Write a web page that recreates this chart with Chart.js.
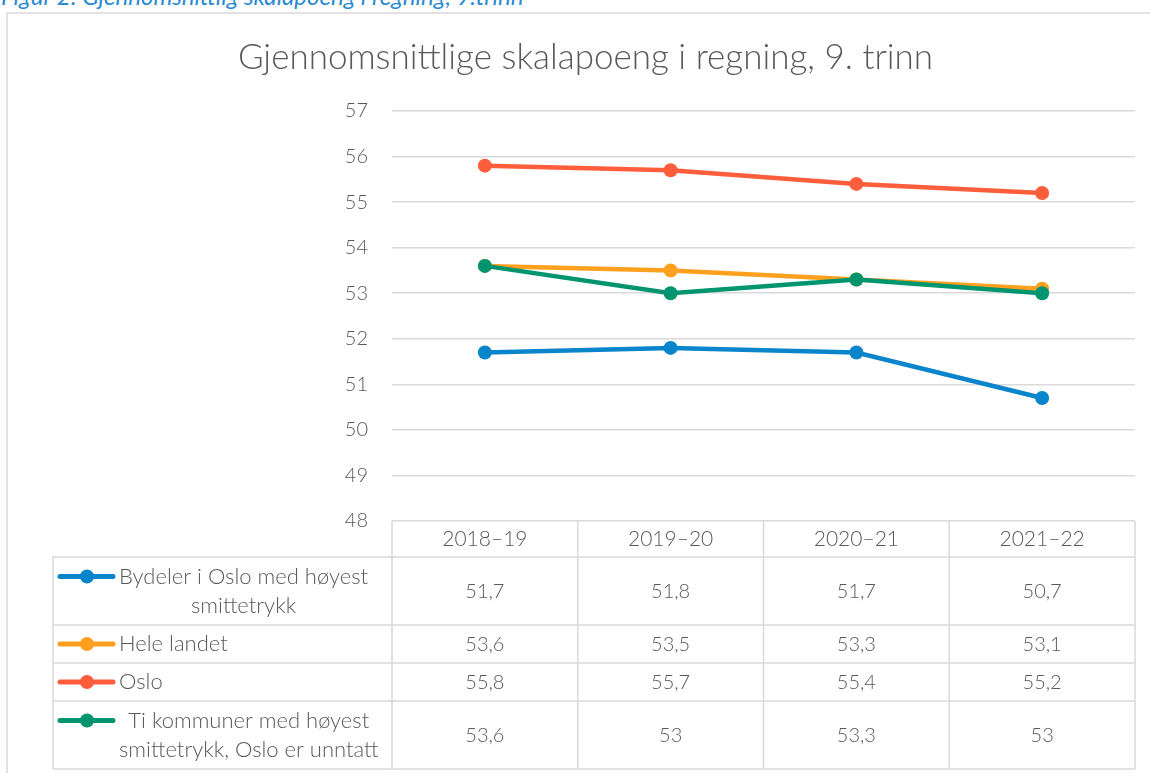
<!DOCTYPE html>
<html>
<head>
<meta charset="utf-8">
<script src="https://cdn.jsdelivr.net/npm/chart.js@4/dist/chart.umd.min.js"></script>
<style>
    html, body { margin: 0; padding: 0; background: #FFFFFF; overflow: hidden; }
    #caption {
        position: absolute; left: 1px; top: -19px;
        font-family: Lato, 'Open Sans', sans-serif; font-style: italic; font-size: 24px;
        color: #2A8AD2; white-space: nowrap;
    }
    #graph_wrap { position: absolute; left: 0; top: 0; width: 1150px; height: 773px; }
</style>
</head>
<body>
<div id="caption">Figur 2: Gjennomsnittlig skalapoeng i regning, 9.trinn</div>
<div id="graph_wrap"><canvas id="graph_skalapoeng" width="1150" height="773"></canvas></div>
<script>

var LABELS_YEARS                                            = ['2018\u201319', '2019\u201320', '2020\u201321', '2021\u201322'];

var data_bydeler                                            = [51.7, 51.8, 51.7, 50.7];
var data_hele_landet                                        = [53.6, 53.5, 53.3, 53.1];
var data_oslo                                               = [55.8, 55.7, 55.4, 55.2];
var data_ti_kommuner                                        = [53.6, 53.0, 53.3, 53.0];

var label_bydeler                                           = ['Bydeler i Oslo med h\u00f8yest', 'smittetrykk'];
var label_hele_landet                                       = ['Hele landet'];
var label_oslo                                              = ['Oslo'];
var label_ti_kommuner                                       = ['Ti kommuner med h\u00f8yest', 'smittetrykk, Oslo er unntatt'];

var Y_MIN                                                   = 48;
var Y_MAX                                                   = 57;

var COLOR_TEXT                                              = '#595959';
var COLOR_GRID                                              = '#D9D9D9';
var FONT_FAMILY                                             = 'Lato, "Open Sans", sans-serif';

// table layout (pixels), row borders below the plot area
var TABLE_LEFT                                              = 53;
var TABLE_ROWS                                              = [557, 625, 663, 701, 769];
var TABLE_LINE_GAP                                          = 29;
var LEGEND_TEXT_X                                           = 119;

var graph_chart                                             = null;





function graph_format_value(value) {

    return String(value).replace('.', ',');
}



function graph_datasets() {

    var rows = [
        [label_bydeler,     data_bydeler,     '#0A84CB', 4],
        [label_hele_landet, data_hele_landet, '#FFA01E', 3],
        [label_oslo,        data_oslo,        '#FF5D3B', 2],
        [label_ti_kommuner, data_ti_kommuner, '#00956F', 1],
    ];

    return rows.map(function(row) {
        return {
            label: row[0].join(' '),
            table_lines: row[0],
            data: row[1],
            borderColor: row[2],
            backgroundColor: row[2],
            pointBackgroundColor: row[2],
            pointBorderWidth: 0,
            pointRadius: 7,
            pointHoverRadius: 7,
            borderWidth: 4.5,
            tension: 0,
            order: row[3],
        };
    });
}



/**-- Frame and data table under the plot --**/

var graph_table_plugin = {
    id: 'graph_table',

    beforeDraw: function(chart) {

        var ctx = chart.ctx;

        ctx.save();
        ctx.strokeStyle = COLOR_GRID;
        ctx.lineWidth = 1.5;
        ctx.beginPath();
        ctx.moveTo(7, 800);
        ctx.lineTo(7, 13);
        ctx.lineTo(1160, 13);
        ctx.stroke();
        ctx.restore();
    },

    afterDraw: function(chart) {

        var ctx         = chart.ctx;
        var x_scale     = chart.scales.x;
        var area        = chart.chartArea;
        var col_width   = x_scale.getPixelForValue(1) - x_scale.getPixelForValue(0);
        var datasets    = chart.data.datasets;

        ctx.save();
        ctx.strokeStyle = COLOR_GRID;
        ctx.lineWidth = 1.5;

        // horizontal borders
        ctx.beginPath();
        TABLE_ROWS.forEach(function(y) {
            ctx.moveTo(TABLE_LEFT, y);
            ctx.lineTo(area.right, y);
        });

        // vertical borders
        ctx.moveTo(TABLE_LEFT, TABLE_ROWS[0]);
        ctx.lineTo(TABLE_LEFT, TABLE_ROWS[TABLE_ROWS.length - 1]);
        for (var i = 0; i <= LABELS_YEARS.length; i++) {
            var x = area.left + i * col_width;
            ctx.moveTo(x, area.bottom);
            ctx.lineTo(x, TABLE_ROWS[TABLE_ROWS.length - 1]);
        }
        ctx.stroke();

        ctx.fillStyle = COLOR_TEXT;
        ctx.textBaseline = 'middle';
        ctx.textAlign = 'center';

        // header row
        ctx.font = '300 21px ' + FONT_FAMILY;
        LABELS_YEARS.forEach(function(label, index) {
            ctx.fillText(label, x_scale.getPixelForValue(index), (area.bottom + TABLE_ROWS[0]) / 2);
        });

        datasets.forEach(function(ds, row) {

            var top         = TABLE_ROWS[row];
            var bottom      = TABLE_ROWS[row + 1];
            var middle      = (top + bottom) / 2;
            var lines       = ds.table_lines;
            var first_y     = middle - (lines.length - 1) * TABLE_LINE_GAP / 2;

            // values
            ctx.fillStyle = COLOR_TEXT;
            ctx.textAlign = 'center';
            ctx.font = '300 20px ' + FONT_FAMILY;
            ds.data.forEach(function(value, index) {
                ctx.fillText(graph_format_value(value), x_scale.getPixelForValue(index), middle + 1);
            });

            // legend marker
            ctx.strokeStyle = ds.borderColor;
            ctx.lineWidth = 5;
            ctx.lineCap = 'round';
            ctx.beginPath();
            ctx.moveTo(60, first_y);
            ctx.lineTo(113, first_y);
            ctx.stroke();
            ctx.fillStyle = ds.borderColor;
            ctx.beginPath();
            ctx.arc(87, first_y, 7, 0, Math.PI * 2);
            ctx.fill();

            // legend text, wrapped lines centred on the widest one
            ctx.fillStyle = COLOR_TEXT;
            ctx.font = '300 22px ' + FONT_FAMILY;
            var block = Math.max.apply(null, lines.map(function(t) { return ctx.measureText(t).width; }));
            lines.forEach(function(t, li) {
                ctx.fillText(t, LEGEND_TEXT_X + block / 2, first_y + li * TABLE_LINE_GAP);
            });
        });

        ctx.restore();
    }
};



function graph_draw() {

    var canvas = document.getElementById('graph_skalapoeng');

    graph_chart = new Chart(canvas, {
        type: 'line',
        data: {
            labels: LABELS_YEARS,
            datasets: graph_datasets(),
        },
        options: {
            responsive: false,
            devicePixelRatio: 1,
            animation: false,
            layout: {
                padding: { left: 36, right: 15, top: 0, bottom: 252 }
            },
            scales: {
                x: {
                    type: 'category',
                    offset: true,
                    display: false,
                },
                y: {
                    min: Y_MIN,
                    max: Y_MAX,
                    afterFit: function(scale) { scale.width = 356; },
                    ticks: {
                        stepSize: 1,
                        padding: 24,
                        color: COLOR_TEXT,
                        font: { family: FONT_FAMILY, size: 20, weight: 300 },
                    },
                    grid: {
                        color: COLOR_GRID,
                        lineWidth: 1.5,
                        drawTicks: false,
                    },
                    border: { display: false },
                }
            },
            plugins: {
                legend: { display: false },
                tooltip: { enabled: false },
                title: {
                    display: true,
                    text: 'Gjennomsnittlige skalapoeng i regning, 9. trinn',
                    color: COLOR_TEXT,
                    font: { family: FONT_FAMILY, size: 35, weight: 300, lineHeight: 1.2 },
                    padding: { top: 37, bottom: 32 },
                }
            }
        },
        plugins: [graph_table_plugin]
    });
}

graph_draw();

</script>
</body>
</html>
